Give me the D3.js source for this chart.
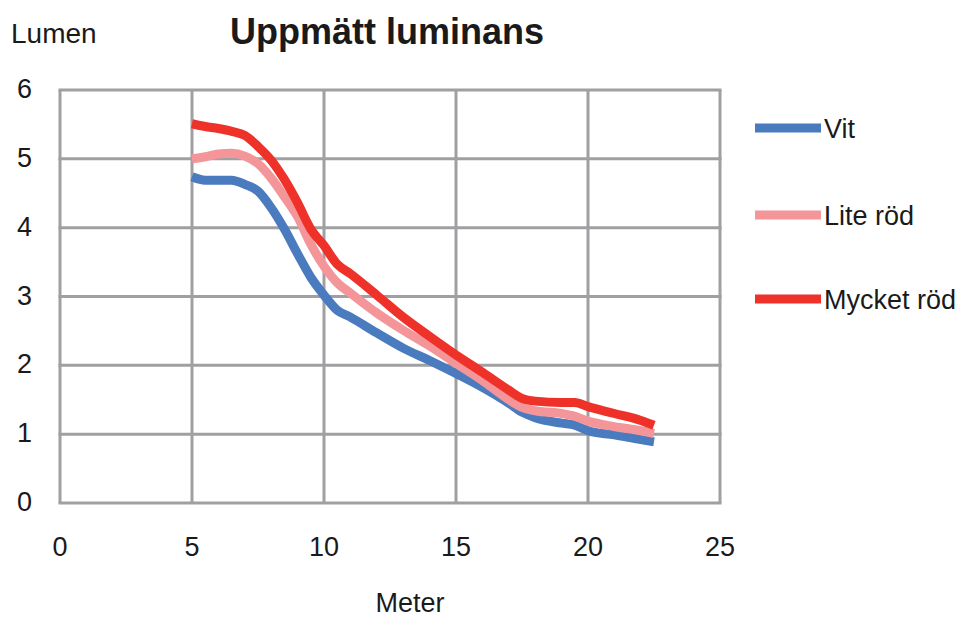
<!DOCTYPE html>
<html>
<head>
<meta charset="utf-8">
<script src="https://cdn.jsdelivr.net/npm/d3@7"></script>
<style>
  body { margin: 0; background: #fff; }
  text { font-family: "Liberation Sans", Arial, sans-serif; fill: #1a1a1a; }
</style>
</head>
<body>
<div id="vis"></div>
<script>
// distance in meter, shared by all series
const meter = [5, 5.5, 6, 6.5, 7, 7.5, 8, 8.5, 9, 9.5, 10, 10.5, 11, 12, 13, 14, 15, 16, 17, 17.5, 18, 19, 19.5, 20, 21, 22, 22.5];

const vit = [4.74, 4.69, 4.69, 4.69, 4.63, 4.53, 4.29, 3.98, 3.62, 3.28, 3.02, 2.80, 2.70, 2.47, 2.25, 2.07, 1.88, 1.68, 1.45, 1.32, 1.24, 1.16, 1.13, 1.05, 0.99, 0.92, 0.89];
const liteRod = [5.00, 5.03, 5.07, 5.08, 5.04, 4.93, 4.72, 4.45, 4.16, 3.76, 3.44, 3.20, 3.05, 2.76, 2.51, 2.28, 2.03, 1.78, 1.50, 1.39, 1.34, 1.30, 1.26, 1.19, 1.11, 1.05, 1.01];
const mycketRod = [5.51, 5.47, 5.44, 5.40, 5.34, 5.18, 4.98, 4.70, 4.36, 3.98, 3.74, 3.47, 3.33, 3.02, 2.70, 2.42, 2.15, 1.90, 1.64, 1.52, 1.48, 1.46, 1.46, 1.40, 1.30, 1.20, 1.13];

const seriesNames = ['Vit', 'Lite röd', 'Mycket röd'];
const seriesColors = ['#4a7bbf', '#f4959a', '#ee3129'];
const xTicks = [0, 5, 10, 15, 20, 25];
const yTicks = [0, 1, 2, 3, 4, 5, 6];

let W = 961, H = 618;
let plot = { left: 60, top: 90, right: 720, bottom: 503 };

let svg = d3.select('#vis')
  .append('svg')
  .attr('width', W)
  .attr('height', H);

let x = d3.scaleLinear().domain([0, 25]).range([plot.left, plot.right]);
let y = d3.scaleLinear().domain([0, 6]).range([plot.bottom, plot.top]);

// grid lines
svg.append('g')
  .selectAll('line')
  .data(xTicks)
  .join('line')
  .attr('x1', d => x(d)).attr('x2', d => x(d))
  .attr('y1', plot.top).attr('y2', plot.bottom)
  .attr('stroke', '#a0a0a3').attr('stroke-width', 3);

svg.append('g')
  .selectAll('line')
  .data(yTicks)
  .join('line')
  .attr('x1', plot.left - 1.5).attr('x2', plot.right + 1.5)
  .attr('y1', d => y(d)).attr('y2', d => y(d))
  .attr('stroke', '#a0a0a3').attr('stroke-width', 3);

// tick labels
svg.append('g')
  .selectAll('text')
  .data(yTicks)
  .join('text')
  .attr('x', 32)
  .attr('y', d => y(d) + 8)
  .attr('text-anchor', 'end')
  .style('font-size', '27px')
  .text(d => d);

svg.append('g')
  .selectAll('text')
  .data(xTicks)
  .join('text')
  .attr('x', d => x(d))
  .attr('y', 556)
  .attr('text-anchor', 'middle')
  .style('font-size', '27px')
  .text(d => d);

// lines
let allSeries = [vit, liteRod, mycketRod];
let line = d3.line()
  .x((d, i) => x(meter[i]))
  .y(d => y(d))
  .curve(d3.curveMonotoneX);

svg.append('g')
  .selectAll('path')
  .data(allSeries)
  .join('path')
  .attr('d', d => line(d))
  .attr('fill', 'none')
  .attr('stroke', (d, i) => seriesColors[i])
  .attr('stroke-width', 9)
  .attr('stroke-linejoin', 'round');

// titles
svg.append('text')
  .attr('x', 387).attr('y', 44)
  .attr('text-anchor', 'middle')
  .style('font-size', '36px')
  .style('font-weight', 'bold')
  .text('Uppmätt luminans');

svg.append('text')
  .attr('x', 11).attr('y', 43)
  .style('font-size', '28px')
  .text('Lumen');

svg.append('text')
  .attr('x', 410).attr('y', 612)
  .attr('text-anchor', 'middle')
  .style('font-size', '27px')
  .text('Meter');

// legend
let legend = svg.selectAll('.legend')
  .data(seriesNames)
  .join('g')
  .attr('class', 'legend')
  .attr('transform', (d, i) => 'translate(755,' + [128, 215, 299][i] + ')');

legend.append('line')
  .attr('x1', 0).attr('x2', 66)
  .attr('stroke', (d, i) => seriesColors[i])
  .attr('stroke-width', 9);

legend.append('text')
  .attr('x', 69).attr('y', 10)
  .style('font-size', '27px')
  .text(d => d);
</script>
</body>
</html>
